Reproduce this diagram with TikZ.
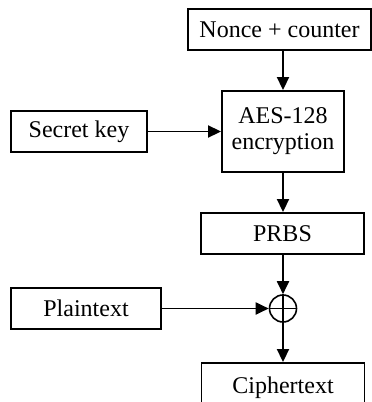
\documentclass[tikz,border=0pt]{standalone}
\usepackage{fontspec}
\setmainfont{Liberation Serif}
\usetikzlibrary{arrows.meta}
\begin{document}
\begin{tikzpicture}[x=1pt,y=-1pt,
  box/.style={draw, line width=1.9pt, inner sep=0pt, align=center,
    font=\fontsize{24}{28}\selectfont},
  flow/.style={line width=1.9pt, -{Triangle[length=13pt,width=12pt]}},
  xorsym/.style={draw, circle, line width=1.6pt, minimum size=27pt, inner sep=0pt}]
  \useasboundingbox (0,0) rectangle (372,402);
  % blocks
  \node[box, minimum width=183pt, minimum height=41pt] (nonce) at (279.5,29.5) {Nonce + counter};
  \node[box, minimum width=122pt, minimum height=81pt] (aes) at (283,131.5) {AES-128\\[-2pt]encryption};
  \node[box, minimum width=136pt, minimum height=41pt] (key) at (79,131.5) {Secret key};
  \node[box, minimum width=163pt, minimum height=41pt] (prbs) at (282.5,233.5) {PRBS};
  \node[xorsym] (xor) at (283,308.5) {};
  \node[box, minimum width=150pt, minimum height=41pt] (plain) at (86,308.5) {Plaintext};
  \node[box, minimum width=163pt, minimum height=49pt] (cipher) at (283,387.5) {\raisebox{4pt}{Ciphertext}};
  % plus sign of the XOR
  \draw[line width=1.6pt] (xor.west) -- (xor.east);
  \draw[line width=1.6pt] (xor.north) -- (xor.south);
  % connectors
  \draw[flow] (nonce.south -| aes.north) -- (aes.north);
  \draw[flow] (key.east) -- (aes.west);
  \draw[flow] (aes.south) -- (aes.south |- prbs.north);
  \draw[flow] (prbs.south -| xor.north) -- (xor.north);
  \draw[flow] (plain.east) -- (xor.west);
  \draw[flow] (xor.south) -- (xor.south |- cipher.north);
\end{tikzpicture}
\end{document}
